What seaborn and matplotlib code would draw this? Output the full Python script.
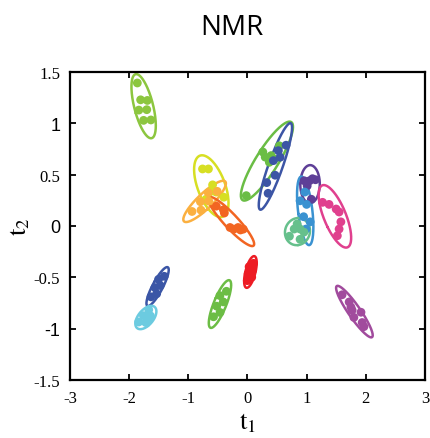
import numpy as np
import pandas as pd
import matplotlib
matplotlib.use("Agg")
import matplotlib.pyplot as plt
import seaborn as sns

# Score coordinates (t1, t2) for each sample group
groups = ["G1", "G2", "G3", "G4", "G5", "G6", "G7", "G8",
          "G9", "G10", "G11", "G12", "G13", "G14", "G15"]

t1 = {
    "G1": [-1.863, -1.807, -1.693, -1.837, -1.703, -1.757, -1.633],
    "G2": [-0.76, -0.66, -0.64, -0.53, -0.40, -0.70, -0.59],
    "G3": [-0.938, -0.786, -0.796, -0.654, -0.664, -0.512],
    "G4": [-0.527, -0.407, -0.391, -0.295, -0.231, -0.159, -0.119, -0.071],
    "G5": [-0.02, 0.26, 0.40, 0.37, 0.30, 0.54, 0.455],
    "G6": [0.653, 0.523, 0.552, 0.438, 0.467, 0.326, 0.349],
    "G7": [0.96, 1.05, 1.10, 1.15, 1.01, 1.08],
    "G8": [0.97, 0.89, 1.00, 0.95, 1.06, 0.99],
    "G9": [1.27, 1.38, 1.50, 1.55, 1.58, 1.55, 1.52],
    "G10": [0.84, 0.89, 0.955, 0.71, 0.89, 0.79],
    "G11": [-0.003, 0.072, 0.012, 0.088, 0.028, 0.103],
    "G12": [-0.574, -0.464, -0.520, -0.410, -0.466, -0.356],
    "G13": [-1.632, -1.536, -1.565, -1.475, -1.504, -1.408],
    "G14": [-1.84, -1.72, -1.76, -1.64, -1.67, -1.68],
    "G15": [1.60, 1.72, 1.75, 1.77, 1.92, 1.80, 1.94, 1.97],
}
t2 = {
    "G1": [1.392, 1.228, 1.222, 1.128, 1.132, 1.028, 1.032],
    "G2": [0.555, 0.555, 0.33, 0.33, 0.28, 0.26, 0.40],
    "G3": [0.141, 0.154, 0.236, 0.242, 0.324, 0.337],
    "G4": [0.193, 0.157, 0.126, -0.015, -0.031, -0.015, -0.039, -0.031],
    "G5": [0.295, 0.72, 0.685, 0.62, 0.67, 0.78, 0.65],
    "G6": [0.786, 0.733, 0.669, 0.636, 0.494, 0.422, 0.318],
    "G7": [0.44, 0.44, 0.46, 0.45, 0.39, 0.26],
    "G8": [0.33, 0.245, 0.21, 0.09, 0.04, -0.03],
    "G9": [0.23, 0.21, 0.165, 0.136, 0.04, -0.03, -0.095],
    "G10": [0.02, -0.03, -0.06, -0.10, -0.13, -0.03],
    "G11": [-0.532, -0.499, -0.465, -0.431, -0.397, -0.364],
    "G12": [-0.884, -0.842, -0.781, -0.739, -0.678, -0.636],
    "G13": [-0.690, -0.660, -0.600, -0.580, -0.520, -0.490],
    "G14": [-0.935, -0.94, -0.873, -0.876, -0.816, -0.907],
    "G15": [-0.67, -0.74, -0.79, -0.82, -0.84, -0.89, -0.94, -0.98],
}

colors = ["#8cc63f", "#d7df23", "#fbb040", "#f26522", "#6abd45",
          "#3c55a5", "#5e3f97", "#3a92d1", "#e0408e", "#66c08c",
          "#ed1c24", "#6cbd45", "#3b56a6", "#6ccbe0", "#a14b9d"]

x_ticks = [-3, -2, -1, 0, 1, 2, 3]
y_ticks = [-1.5, -1, -0.5, 0, 0.5, 1, 1.5]

df = pd.DataFrame(
    [(g, x, y) for g in groups for x, y in zip(t1[g], t2[g])],
    columns=["group", "t1", "t2"],
)
palette = dict(zip(groups, colors))

sns.set_style("white")
plt.rcParams["mathtext.fontset"] = "stix"

fig = plt.figure(figsize=(4.30, 4.39), dpi=100)
ax = fig.add_axes([0.163, 0.132, 0.825, 0.702])

# 95% confidence ellipse around each group
k = np.sqrt(5.991)
theta = np.linspace(0, 2 * np.pi, 200)
circle = np.vstack([np.cos(theta), np.sin(theta)])
for g in groups:
    pts = np.column_stack([t1[g], t2[g]])
    mu = pts.mean(axis=0)
    cov = np.cov(pts, rowvar=False)
    vals, vecs = np.linalg.eigh(cov)
    ring = vecs @ (k * np.sqrt(np.maximum(vals, 0))[:, None] * circle)
    ax.plot(mu[0] + ring[0], mu[1] + ring[1], color=palette[g], lw=1.8, zorder=2)

sns.scatterplot(data=df, x="t1", y="t2", hue="group", palette=palette,
                s=40, linewidth=0, legend=False, ax=ax, zorder=3)

ax.set_xlim(-3, 3)
ax.set_ylim(-1.5, 1.5)
ax.set_xticks(x_ticks)
ax.set_yticks(y_ticks)
ax.set_xticklabels([f"{v:g}" for v in x_ticks], family="Liberation Serif",
                   fontsize=12, color="black")
ylabels = ax.set_yticklabels([f"{v:g}" for v in y_ticks], family="Liberation Serif",
                             fontsize=12, color="black")
for lab, v in zip(ylabels, y_ticks):
    if float(v).is_integer():
        lab.set_family("Liberation Sans")
        lab.set_fontsize(13)

ax.tick_params(direction="in", length=4, width=1.3, top=True, right=True,
               bottom=True, left=True, pad=7, colors="black")
for sp in ax.spines.values():
    sp.set_visible(True)
    sp.set_color("black")
    sp.set_linewidth(1.6)

ax.set_xlabel(r"$\mathrm{t}_1$", fontsize=19, labelpad=2, color="black")
ax.set_ylabel(r"$\mathrm{t}_2$", fontsize=19, labelpad=1, color="black")
ax.set_title("NMR", family="Open Sans", fontsize=20, pad=27, x=0.456, color="black")

fig.savefig("out.png", dpi=100)
